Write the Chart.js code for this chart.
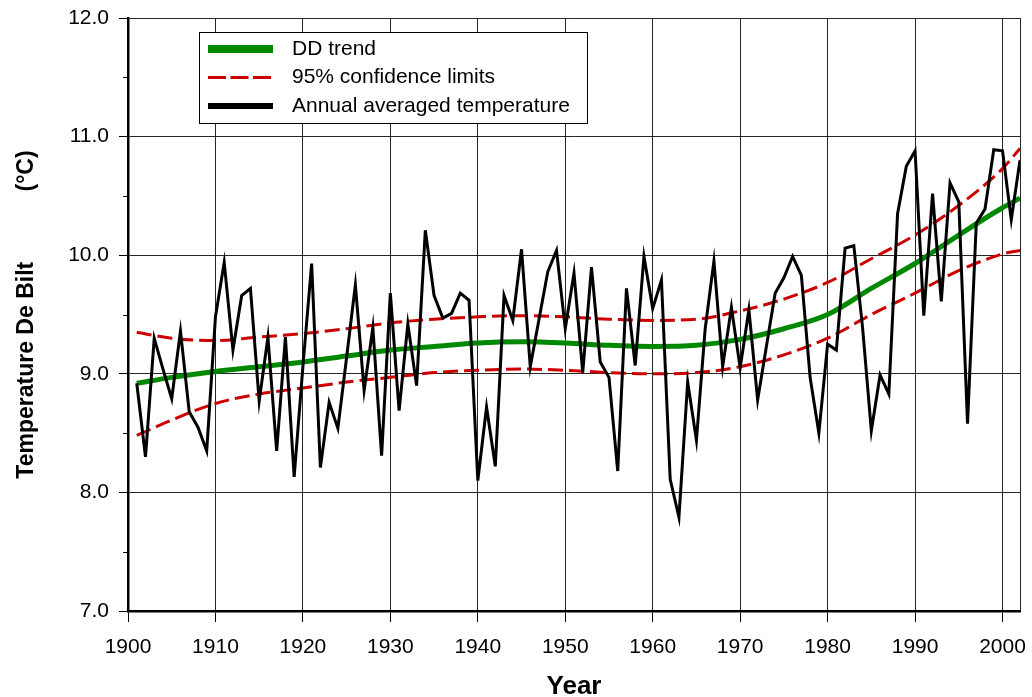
<!DOCTYPE html>
<html>
<head>
<meta charset="utf-8">
<title>Temperature De Bilt</title>
<script src="https://cdn.jsdelivr.net/npm/chart.js@4/dist/chart.umd.min.js"></script>
<style>
  html, body { margin: 0; padding: 0; background: #fff; overflow: hidden; }
  #wrap { width: 1032px; height: 697px; position: relative; }
</style>
</head>
<body>
<div id="wrap"><canvas id="chart" width="1032" height="697"></canvas></div>
<script>
// Annual mean temperature at De Bilt (°C), 1901–2002
const firstYear = 1901;
const annualTemp = [
  8.92, 8.30, 9.30, 9.04, 8.79, 9.36, 8.68, 8.55, 8.35, 9.48,   // 1901–1910
  9.94, 9.20, 9.66, 9.72, 8.77, 9.31, 8.35, 9.31, 8.13, 9.06,   // 1911–1920
  9.93, 8.21, 8.76, 8.54, 9.14, 9.75, 8.86, 9.39, 8.31, 9.68,   // 1921–1930
  8.69, 9.42, 8.90, 10.21, 9.66, 9.47, 9.51, 9.68, 9.62, 8.10,  // 1931–1940
  8.72, 8.22, 9.66, 9.45, 10.05, 9.06, 9.46, 9.86, 10.04, 9.38, // 1941–1950
  9.85, 9.01, 9.90, 9.10, 8.97, 8.18, 9.72, 9.07, 9.99, 9.55,   // 1951–1960
  9.79, 8.11, 7.79, 8.93, 8.44, 9.38, 9.95, 9.06, 9.56, 9.05,   // 1961–1970
  9.54, 8.78, 9.23, 9.68, 9.81, 9.99, 9.83, 8.97, 8.50, 9.25,   // 1971–1980
  9.20, 10.06, 10.08, 9.39, 8.52, 8.99, 8.83, 10.35, 10.75, 10.88, // 1981–1990
  9.49, 10.52, 9.61, 10.61, 10.45, 8.58, 10.27, 10.39, 10.89, 10.88, // 1991–2000
  10.30, 10.80                                                   // 2001–2002
];
const annualYears = annualTemp.map((_, i) => firstYear + i);

// Smooth trend and its 95% confidence band, read at knot years
const trendYears = [1901, 1905, 1910, 1915, 1920, 1925, 1930, 1935, 1940, 1945, 1950,
                    1955, 1960, 1965, 1970, 1975, 1980, 1985, 1990, 1995, 2000, 2002];
const trendTemp  = [8.92, 8.97, 9.02, 9.06, 9.10, 9.15, 9.20, 9.23, 9.26, 9.27, 9.26,
                    9.24, 9.23, 9.24, 9.29, 9.38, 9.50, 9.72, 9.93, 10.17, 10.40, 10.48];
const upperLimit = [9.35, 9.30, 9.28, 9.31, 9.34, 9.38, 9.43, 9.46, 9.48, 9.49, 9.48,
                    9.46, 9.45, 9.46, 9.53, 9.63, 9.77, 9.97, 10.17, 10.42, 10.73, 10.90];
const lowerLimit = [8.48, 8.61, 8.75, 8.83, 8.88, 8.93, 8.97, 9.01, 9.03, 9.04, 9.03,
                    9.01, 9.00, 9.01, 9.06, 9.16, 9.30, 9.50, 9.68, 9.87, 10.01, 10.04];

// Axis ticks
const xTickYears = [1900, 1910, 1920, 1930, 1940, 1950, 1960, 1970, 1980, 1990, 2000];
const xMin = 1900, xMax = 2002;
const yTickValues = [7, 8, 9, 10, 11, 12];
const yMinorTicks = [7.5, 8.5, 9.5, 10.5, 11.5];

// Text
const xTitle = 'Year';
const yTitle = 'Temperature De Bilt           (°C)';
const labelTrend = 'DD trend';
const labelLimits = '95% confidence limits';
const labelAnnual = 'Annual averaged temperature';

const BLACK = '#000000';
const GREEN = 'rgb(0,136,0)';
const RED = 'rgb(204,0,0)';
const FONT = '"Liberation Sans", Arial, Helvetica, sans-serif';

Chart.defaults.font.family = FONT;
Chart.defaults.color = BLACK;

const toPoints = (xs, ys) => xs.map((x, i) => ({ x, y: ys[i] }));

// Short minor tick marks on the left of the temperature axis
const minorTickPlugin = {
  id: 'minorTicks',
  afterDraw(chart) {
    const { ctx } = chart;
    const y = chart.scales.y;
    ctx.save();
    ctx.strokeStyle = BLACK;
    ctx.lineWidth = 1;
    ctx.beginPath();
    yMinorTicks.forEach(v => {
      const py = Math.round(y.getPixelForValue(v)) + 0.5;
      ctx.moveTo(y.right - 5, py);
      ctx.lineTo(y.right, py);
    });
    ctx.stroke();
    ctx.restore();
  }
};

// Boxed legend inside the plot area
const legendBoxPlugin = {
  id: 'legendBox',
  afterDraw(chart) {
    const { ctx, chartArea } = chart;
    const x0 = chartArea.left + 71, y0 = chartArea.top + 14, w = 388, h = 91;
    const ds = chart.data.datasets;
    const entries = [
      { text: labelTrend,  color: ds[1].borderColor, width: 8, dash: [] },
      { text: labelLimits, color: ds[2].borderColor, width: 3, dash: [18, 4.5] },
      { text: labelAnnual, color: ds[0].borderColor, width: 6, dash: [] }
    ];
    ctx.save();
    ctx.fillStyle = '#ffffff';
    ctx.fillRect(x0, y0, w, h);
    ctx.strokeStyle = BLACK;
    ctx.lineWidth = 1;
    ctx.strokeRect(x0 + 0.5, y0 + 0.5, w, h);
    entries.forEach((e, i) => {
      const yy = y0 + 17 + i * 28.5;
      ctx.beginPath();
      ctx.strokeStyle = e.color;
      ctx.lineWidth = e.width;
      ctx.setLineDash(e.dash);
      ctx.lineCap = 'butt';
      ctx.moveTo(x0 + 9, yy);
      ctx.lineTo(x0 + 74, yy);
      ctx.stroke();
      ctx.setLineDash([]);
      ctx.fillStyle = BLACK;
      ctx.font = '21px ' + FONT;
      ctx.textBaseline = 'middle';
      ctx.textAlign = 'left';
      ctx.fillText(e.text, x0 + 93, yy);
    });
    ctx.restore();
  }
};

new Chart(document.getElementById('chart'), {
  type: 'line',
  data: {
    datasets: [
      {
        label: labelAnnual,
        data: toPoints(annualYears, annualTemp),
        borderColor: BLACK,
        borderWidth: 3,
        pointRadius: 0,
        tension: 0,
        order: 0
      },
      {
        label: labelTrend,
        data: toPoints(trendYears, trendTemp),
        borderColor: GREEN,
        borderWidth: 5,
        pointRadius: 0,
        cubicInterpolationMode: 'monotone',
        order: 1
      },
      {
        label: labelLimits,
        data: toPoints(trendYears, upperLimit),
        borderColor: RED,
        borderWidth: 3,
        borderDash: [15, 6],
        pointRadius: 0,
        cubicInterpolationMode: 'monotone',
        order: 2
      },
      {
        label: labelLimits,
        data: toPoints(trendYears, lowerLimit),
        borderColor: RED,
        borderWidth: 3,
        borderDash: [15, 6],
        pointRadius: 0,
        cubicInterpolationMode: 'monotone',
        order: 2
      }
    ]
  },
  options: {
    responsive: false,
    animation: false,
    devicePixelRatio: 1,
    layout: { padding: { top: 18, right: 12, left: 0, bottom: 0 } },
    plugins: {
      legend: { display: false },
      tooltip: { enabled: false }
    },
    scales: {
      x: {
        type: 'linear',
        min: xMin,
        max: xMax,
        afterBuildTicks: s => { s.ticks = xTickYears.concat([xMax]).map(value => ({ value })); },
        afterFit: s => { s.height = 86; s.paddingLeft = 0; s.paddingRight = 0; },
        ticks: {
          autoSkip: false,
          maxRotation: 0,
          padding: 13,
          color: BLACK,
          font: { size: 21 },
          callback: v => (v === xMax ? '' : String(v))
        },
        grid: {
          color: 'rgba(0,0,0,0.85)',
          lineWidth: 1,
          tickLength: 11,
          tickColor: c => (c.tick && c.tick.value === xMax ? 'rgba(0,0,0,0)' : BLACK)
        },
        border: { display: true, color: BLACK, width: 2.5 },
        title: {
          display: true,
          text: xTitle,
          color: BLACK,
          font: { size: 26, weight: 'bold' },
          padding: { top: 0, bottom: -5 }
        }
      },
      y: {
        min: 7,
        max: 12,
        afterBuildTicks: s => { s.ticks = yTickValues.map(value => ({ value })); },
        afterFit: s => { s.width = 128; s.paddingTop = 0; s.paddingBottom = 0; },
        ticks: {
          padding: 10,
          color: BLACK,
          font: { size: 21 },
          callback: v => Number(v).toFixed(1)
        },
        grid: {
          color: 'rgba(0,0,0,0.85)',
          lineWidth: 1,
          tickLength: 9,
          tickColor: BLACK
        },
        border: { display: true, color: BLACK, width: 2.5 },
        title: {
          display: true,
          text: yTitle,
          color: BLACK,
          font: { size: 23, weight: 'bold' },
          padding: { top: 13, bottom: 0 }
        }
      }
    }
  },
  plugins: [minorTickPlugin, legendBoxPlugin]
});
</script>
</body>
</html>
